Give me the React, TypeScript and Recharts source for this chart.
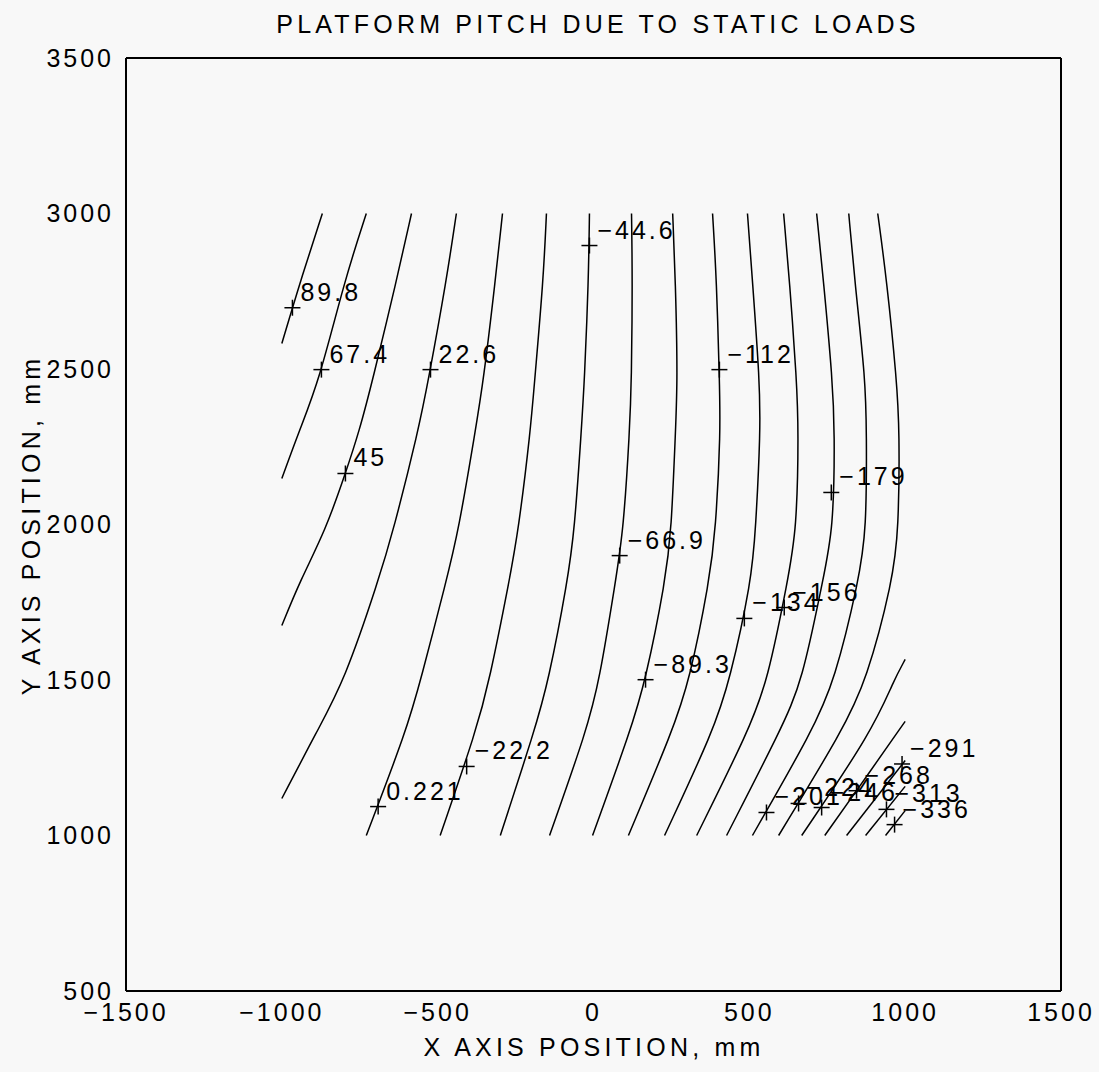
import React from "react"
import { ComposedChart, Line, Scatter, XAxis, YAxis } from "recharts"

// contour levels (pitch), one per path below
const levels = [89.8, 67.4, 45, 22.6, 0.221, -22.2, -44.6, -66.9, -89.3, -112, -134, -156, -179, -201, -224, -246, -268, -291, -313, -336]

// contour paths as [x mm, y mm]
const c01 = [[-870, 3000], [-940, 2784], [-1000, 2582]]
const c02 = [[-729, 3000], [-799, 2784], [-880, 2463], [-944, 2302], [-1000, 2148]]
const c03 = [[-584, 3000], [-632, 2784], [-709, 2463], [-751, 2302], [-796, 2164], [-860, 1981], [-941, 1820], [-1000, 1675]]
const c04 = [[-440, 3000], [-472, 2784], [-530, 2463], [-562, 2302], [-642, 1981], [-690, 1820], [-799, 1498], [-886, 1338], [-1000, 1119]]
const c05 = [[-292, 3000], [-315, 2784], [-353, 2463], [-379, 2302], [-433, 1981], [-472, 1820], [-555, 1498], [-600, 1338], [-729, 1000]]
const c06 = [[-151, 3000], [-161, 2784], [-189, 2463], [-202, 2302], [-241, 1981], [-270, 1820], [-334, 1498], [-376, 1338], [-492, 1000]]
const c07 = [[-13, 3000], [-16, 2784], [-29, 2463], [-39, 2302], [-61, 1981], [-83, 1820], [-144, 1498], [-189, 1338], [-299, 1000]]
const c08 = [[122, 3000], [125, 2784], [122, 2463], [116, 2302], [96, 1981], [71, 1820], [19, 1498], [-22, 1338], [-141, 1000]]
const c09 = [[254, 3000], [263, 2784], [270, 2463], [263, 2302], [250, 1981], [231, 1820], [167, 1498], [119, 1338], [-3, 1000]]
const c10 = [[382, 3000], [395, 2784], [404, 2463], [408, 2302], [392, 1981], [372, 1820], [308, 1498], [254, 1338], [112, 1000]]
const c11 = [[494, 3000], [510, 2784], [533, 2463], [536, 2302], [520, 1981], [507, 1820], [437, 1498], [385, 1338], [228, 1000]]
const c12 = [[610, 3000], [629, 2784], [652, 2463], [658, 2302], [652, 1981], [623, 1820], [559, 1498], [498, 1338], [331, 1000]]
const c13 = [[716, 3000], [738, 2784], [767, 2463], [774, 2302], [770, 1981], [735, 1820], [671, 1498], [600, 1338], [427, 1000]]
const c14 = [[819, 3000], [838, 2784], [873, 2463], [876, 2302], [876, 1981], [851, 1820], [774, 1498], [703, 1338], [510, 1000]]
const c15 = [[912, 3000], [941, 2784], [973, 2463], [982, 2302], [979, 1981], [960, 1820], [876, 1498], [799, 1338], [594, 1000]]
const c16 = [[1000, 1566], [963, 1498], [896, 1338], [668, 1000]]
const c17 = [[1000, 1367], [844, 1144], [742, 1000]]
const c18 = [[1000, 1241], [812, 1000]]
const c19 = [[1000, 1158], [873, 1000]]
const c20 = [[1000, 1080], [937, 1000]]

const paths = [c01, c02, c03, c04, c05, c06, c07, c08, c09, c10, c11, c12, c13, c14, c15, c16, c17, c18, c19, c20]

// label marker positions (same order as levels)
const labelX = [-966, -873, -796, -523, -691, -407, -13, 84, 167, 404, 484, 612, 763, 555, 658, 732, 844, 990, 940, 966]
const labelY = [2697, 2498, 2164, 2498, 1093, 1222, 2897, 1900, 1501, 2498, 1698, 1733, 2103, 1074, 1103, 1090, 1144, 1230, 1084, 1035]

const xTicks = [-1500, -1000, -500, 0, 500, 1000, 1500]
const yTicks = [500, 1000, 1500, 2000, 2500, 3000, 3500]

const font = "'Liberation Sans', Arial, Helvetica, sans-serif"
const fmt = (v: number) => String(v).replace("-", "\u2212")

const markers = levels.map((v, i) => ({ x: labelX[i], y: labelY[i], v }))

function PlusLabel(props: any) {
  const { cx, cy, payload } = props
  if (cx == null || cy == null) return null
  return (
    <g>
      <line x1={cx - 8} x2={cx + 8} y1={cy} y2={cy} stroke="#000" strokeWidth={1.5} />
      <line x1={cx} x2={cx} y1={cy - 8} y2={cy + 8} stroke="#000" strokeWidth={1.5} />
      <text x={cx + 8} y={cy - 7} fontSize={25} fontFamily={font} letterSpacing={3} fill="#000">
        {fmt(payload.v)}
      </text>
    </g>
  )
}

const axisTitle = { fontSize: 25, letterSpacing: 4.2, whiteSpace: "nowrap" as const }

export default function App() {
  const tickStyle = { fontSize: 25, fill: "#000", fontFamily: font, letterSpacing: 3 }
  return (
    <div style={{ position: "absolute", left: 0, top: 0, width: 1099, height: 1072, background: "#f8f8f8", fontFamily: font, color: "#000" }}>
      <div style={{ ...axisTitle, position: "absolute", left: 598, top: 10, transform: "translateX(-50%)" }}>
        PLATFORM PITCH DUE TO STATIC LOADS
      </div>
      <div style={{ ...axisTitle, position: "absolute", left: 594, top: 1033, transform: "translateX(-50%)" }}>
        X AXIS POSITION, mm
      </div>
      <div style={{ ...axisTitle, position: "absolute", left: 31, top: 525, transform: "translate(-50%, -50%) rotate(-90deg)" }}>
        Y AXIS POSITION, mm
      </div>
      <div style={{ position: "absolute", left: 0, top: 0 }}>
        <ComposedChart width={1099} height={1072} margin={{ top: 58, right: 38, bottom: 51, left: 16 }}>
          <XAxis xAxisId="x" dataKey="x" type="number" domain={[-1500, 1500]} ticks={xTicks} allowDataOverflow height={30}
            tickLine={false} tickSize={0} tickMargin={12} axisLine={{ stroke: "#000", strokeWidth: 2 }} tick={tickStyle} tickFormatter={fmt} />
          <XAxis xAxisId="xin" type="number" domain={[-1500, 1500]} ticks={xTicks} allowDataOverflow mirror tick={false}
            tickSize={8} axisLine={false} tickLine={{ stroke: "#000", strokeWidth: 1.5 }} />
          <XAxis xAxisId="xtop" orientation="top" type="number" domain={[-1500, 1500]} ticks={xTicks} allowDataOverflow mirror tick={false}
            tickSize={8} axisLine={{ stroke: "#000", strokeWidth: 2 }} tickLine={{ stroke: "#000", strokeWidth: 1.5 }} />
          <YAxis yAxisId="y" dataKey="y" type="number" domain={[500, 3500]} ticks={yTicks} allowDataOverflow width={110}
            tickLine={false} tickSize={0} tickMargin={12} axisLine={{ stroke: "#000", strokeWidth: 2 }} tick={tickStyle} />
          <YAxis yAxisId="yin" type="number" domain={[500, 3500]} ticks={yTicks} allowDataOverflow mirror tick={false}
            tickSize={8} axisLine={false} tickLine={{ stroke: "#000", strokeWidth: 1.5 }} />
          <YAxis yAxisId="yright" orientation="right" type="number" domain={[500, 3500]} ticks={yTicks} allowDataOverflow mirror tick={false}
            tickSize={8} axisLine={{ stroke: "#000", strokeWidth: 2 }} tickLine={{ stroke: "#000", strokeWidth: 1.5 }} />
          {paths.map((p, i) => (
            <Line
              key={levels[i]}
              xAxisId="x"
              yAxisId="y"
              data={p.map(([x, y]) => ({ x, y })).sort((a, b) => a.y - b.y)}
              dataKey="y"
              type="basis"
              stroke="#000"
              strokeWidth={1.5}
              dot={false}
              activeDot={false}
              isAnimationActive={false}
            />
          ))}
          <Scatter xAxisId="x" yAxisId="y" data={markers} dataKey="y" shape={<PlusLabel />} isAnimationActive={false} />
        </ComposedChart>
      </div>
    </div>
  )
}
